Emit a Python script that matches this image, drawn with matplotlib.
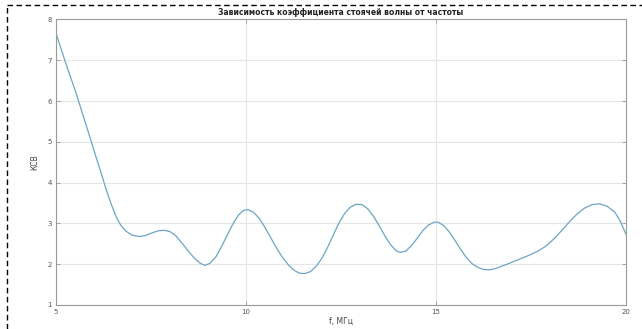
import numpy as np
import matplotlib.pyplot as plt
from matplotlib.lines import Line2D

# частота, МГц и КСВ
f_mhz = [5.00, 5.26, 5.53, 5.79, 6.05, 6.20, 6.32, 6.45, 6.58, 6.70, 6.84,
         7.00, 7.19, 7.35, 7.54, 7.70, 7.85, 8.00, 8.15, 8.33, 8.50, 8.65,
         8.80, 8.92, 9.05, 9.20, 9.35, 9.50, 9.65, 9.80, 9.92, 10.05, 10.20,
         10.35, 10.50, 10.65, 10.80, 10.95, 11.10, 11.25, 11.40, 11.55, 11.70,
         11.85, 12.00, 12.15, 12.30, 12.45, 12.60, 12.75, 12.90, 13.05, 13.20,
         13.35, 13.50, 13.65, 13.80, 13.95, 14.05, 14.20, 14.35, 14.50, 14.65,
         14.80, 14.95, 15.05, 15.20, 15.35, 15.50, 15.65, 15.80, 15.95, 16.10,
         16.25, 16.40, 16.55, 16.70, 16.90, 17.10, 17.30, 17.50, 17.70, 17.90,
         18.10, 18.30, 18.50, 18.70, 18.90, 19.10, 19.30, 19.50, 19.70, 19.85,
         20.00]
ksv = [7.66, 6.92, 6.19, 5.42, 4.64, 4.20, 3.83, 3.48, 3.17, 2.96, 2.81,
       2.71, 2.68, 2.70, 2.77, 2.82, 2.83, 2.80, 2.70, 2.50, 2.30, 2.14,
       2.02, 1.97, 2.02, 2.17, 2.42, 2.70, 2.98, 3.20, 3.31, 3.34, 3.27,
       3.12, 2.90, 2.65, 2.40, 2.18, 2.00, 1.86, 1.78, 1.77, 1.82,
       1.95, 2.15, 2.42, 2.72, 3.02, 3.25, 3.40, 3.47, 3.46, 3.36,
       3.18, 2.95, 2.70, 2.48, 2.33, 2.29, 2.32, 2.45, 2.63, 2.82,
       2.96, 3.03, 3.03, 2.95, 2.79, 2.58, 2.36, 2.16, 2.01, 1.92,
       1.87, 1.86, 1.89, 1.94, 2.01, 2.09, 2.16, 2.24, 2.33, 2.45,
       2.62, 2.82, 3.03, 3.22, 3.37, 3.46, 3.48, 3.42, 3.28, 3.05,
       2.73]

xticks = [5, 10, 15, 20]
yticks = [1, 2, 3, 4, 5, 6, 7, 8]

fig = plt.figure(figsize=(6.42, 3.29), dpi=100)
ax = fig.add_axes([0.0872, 0.073, 0.888, 0.868])

ax.plot(f_mhz, ksv, color='#6aa6c4', lw=0.9)

ax.set_xlim(5, 20)
ax.set_ylim(1, 8)
ax.set_xticks(xticks)
ax.set_yticks(yticks)
ax.grid(True, color='#e6e6e6', lw=0.8)
ax.tick_params(direction='in', length=3, width=0.6, colors='#999999',
               labelcolor='#555555', labelsize=5, top=True, right=True, pad=3)
for s in ax.spines.values():
    s.set_color('#9a9a9a')
    s.set_linewidth(0.8)

ax.set_title('Зависимость коэффициента стоячей волны от частоты',
             fontsize=5.5, fontweight='bold', color='#222222', pad=3)
ax.set_xlabel('f, МГц', fontsize=5.5, color='#444444', labelpad=1)
ax.set_ylabel('КСВ', fontsize=5.5, color='#444444', labelpad=6)

# пунктирная рамка
fig.add_artist(Line2D([7 / 642, 7 / 642], [0, 1 - 5 / 329], color='black',
                      lw=1.0, ls=(0, (4, 2.5)), transform=fig.transFigure))
fig.add_artist(Line2D([7 / 642, 1], [1 - 5 / 329, 1 - 5 / 329], color='black',
                      lw=1.0, ls=(0, (4, 2.5)), transform=fig.transFigure))

fig.savefig('out.png', dpi=100)
